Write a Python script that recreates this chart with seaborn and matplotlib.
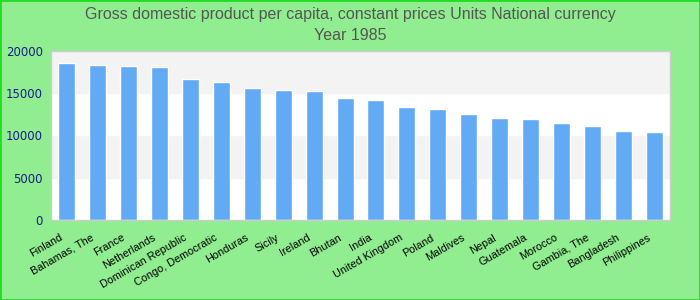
import numpy as np
import pandas as pd
import matplotlib
matplotlib.use('Agg')
import matplotlib.pyplot as plt
import matplotlib.transforms as mtransforms
import seaborn as sns
from matplotlib.patches import Rectangle

countries = ['Finland', 'Bahamas, The', 'France', 'Netherlands', 'Dominican Republic',
             'Congo, Democratic', 'Honduras', 'Sicily', 'Ireland', 'Bhutan', 'India',
             'United Kingdom', 'Poland', 'Maldives', 'Nepal', 'Guatemala', 'Morocco',
             'Gambia, The', 'Bangladesh', 'Philippines']
gdp_values = [18580, 18340, 18220, 18100, 16690, 16330, 15620, 15390, 15270, 14440,
              14200, 13370, 13140, 12540, 12070, 11950, 11480, 11120, 10530, 10410]
y_ticks = [0, 5000, 10000, 15000, 20000]

df = pd.DataFrame({'country': countries, 'value': gdp_values})

sns.set_style('white')
plt.rcParams['font.family'] = ['Liberation Sans', 'DejaVu Sans']

fig = plt.figure(figsize=(7, 3), dpi=100, facecolor='#90ee90')
ax = fig.add_axes([51 / 700, 1 - 220 / 300, 619 / 700, 169 / 300])

# alternating horizontal bands
for i in range(len(y_ticks) - 1):
    color = '#f3f3f3' if i % 2 == 1 else 'white'
    ax.axhspan(y_ticks[i], y_ticks[i + 1], color=color, zorder=0)

sns.barplot(data=df, x='country', y='value', color='#63aaf5', saturation=1,
            width=0.55, ax=ax, zorder=2)

ax.set_ylim(0, 20000)
ax.set_xlim(-0.5, len(countries) - 0.5)
ax.set_yticks(y_ticks)
ax.set_yticklabels([str(t) for t in y_ticks], family='DejaVu Sans',
                   fontsize=8.5, color='#1a1a8c')
ax.set_xticks(range(len(countries)))
ax.set_xticklabels(countries, rotation=30, ha='right', rotation_mode='anchor',
                   fontsize=7.8, color='black')
ax.tick_params(axis='y', length=0, pad=6)
ax.tick_params(axis='x', length=0, pad=9)
# nudge the rotated labels a bit to the left, like the original
shift = mtransforms.ScaledTranslation(-7 / 100, 0, fig.dpi_scale_trans)
for lbl in ax.get_xticklabels():
    lbl.set_transform(lbl.get_transform() + shift)
ax.set_xlabel('')
ax.set_ylabel('')
for s in ax.spines.values():
    s.set_color('#cccccc')
    s.set_linewidth(1)

fig.text(0.5, 1 - 14 / 300, 'Gross domestic product per capita, constant prices Units National currency',
         ha='center', va='center', fontsize=11.5, color='#555555')
fig.text(0.5, 1 - 36 / 300, 'Year 1985', ha='center', va='center',
         fontsize=11.5, color='#555555')

# green frame around the figure
fig.patches.append(Rectangle((0, 0), 1, 1, transform=fig.transFigure, fill=False,
                             edgecolor='#22dd22', linewidth=2))

fig.savefig('out.png', dpi=100, facecolor=fig.get_facecolor())
